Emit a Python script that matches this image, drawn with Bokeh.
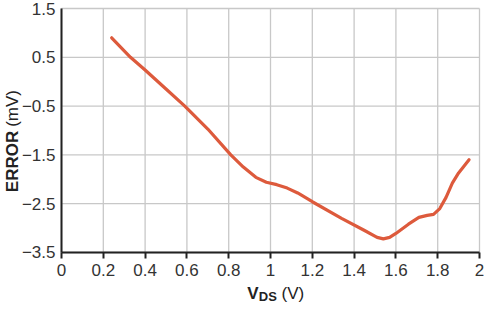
from bokeh.plotting import figure
from bokeh.models import FixedTicker, Label, Range1d
from bokeh.embed import file_html
from bokeh.resources import INLINE

vds = [0.24, 0.33, 0.40, 0.50, 0.59, 0.70, 0.81, 0.87, 0.93, 0.98, 1.03, 1.08,
       1.13, 1.20, 1.34, 1.45, 1.51, 1.54, 1.57, 1.60, 1.66, 1.71, 1.75, 1.78,
       1.81, 1.84, 1.87, 1.90, 1.95]
error_mv = [0.90, 0.50, 0.24, -0.15, -0.50, -0.97, -1.50, -1.75, -1.96, -2.06,
            -2.11, -2.18, -2.28, -2.46, -2.80, -3.05, -3.19, -3.22, -3.19, -3.11,
            -2.92, -2.78, -2.74, -2.72, -2.60, -2.37, -2.08, -1.87, -1.60]

x_ticks = [0, 0.2, 0.4, 0.6, 0.8, 1.0, 1.2, 1.4, 1.6, 1.8, 2.0]
x_tick_labels = ["0", "0.2", "0.4", "0.6", "0.8", "1", "1.2", "1.4", "1.6", "1.8", "2"]
y_ticks = [-3.5, -2.5, -1.5, -0.5, 0.5, 1.5]
y_tick_labels = ["\u22123.5", "\u22122.5", "\u22121.5", "\u22120.5", "0.5", "1.5"]

FONT = "Liberation Sans"
TICK_COLOR = "#333333"
TITLE_COLOR = "#222222"

p = figure(width=484, height=306, output_backend="svg", toolbar_location=None,
           x_range=Range1d(-0.2919, 2.0239), y_range=Range1d(-4.6066, 1.6639),
           min_border=0)
p.outline_line_color = None
p.background_fill_color = "white"
p.border_fill_color = "white"
p.grid.visible = False

# grid lines, drawn from the tick arrays
p.segment(x0=x_ticks, y0=[y_ticks[0]] * len(x_ticks),
          x1=x_ticks, y1=[y_ticks[-1]] * len(x_ticks),
          line_color="#c8c8c8", line_width=1.3)
p.segment(x0=[x_ticks[0]] * len(y_ticks), y0=y_ticks,
          x1=[x_ticks[-1]] * len(y_ticks), y1=y_ticks,
          line_color="#c8c8c8", line_width=1.3)

p.xaxis.ticker = FixedTicker(ticks=x_ticks)
p.yaxis.ticker = FixedTicker(ticks=y_ticks)
p.xaxis.major_label_overrides = {t: l for t, l in zip(x_ticks, x_tick_labels)}
p.yaxis.major_label_overrides = {t: l for t, l in zip(y_ticks, y_tick_labels)}
p.xaxis.fixed_location = y_ticks[0]
p.yaxis.fixed_location = x_ticks[0]
p.xaxis.bounds = (x_ticks[0], x_ticks[-1])
p.yaxis.bounds = (y_ticks[0], y_ticks[-1])

for ax in (p.xaxis, p.yaxis):
    ax.axis_line_color = "#222222"
    ax.axis_line_width = 2
    ax.major_tick_line_color = "#222222"
    ax.major_tick_line_width = 2
    ax.minor_tick_line_color = None
    ax.major_label_text_font = FONT
    ax.major_label_text_font_size = "17px"
    ax.major_label_text_color = TICK_COLOR

p.xaxis.major_tick_in = 0
p.xaxis.major_tick_out = 6
p.xaxis.major_label_standoff = 6
p.yaxis.major_tick_in = 0
p.yaxis.major_tick_out = 0
p.yaxis.major_label_standoff = 6

p.line(vds, error_mv, line_color="#dd5a3c", line_width=3.2, line_join="round",
       line_cap="round")

# y-axis title: bold "ERROR" + normal "(mV)"
p.add_layout(Label(x=-0.2364, y=-1.005, text="ERROR", angle=1.5708,
                   text_align="right", text_baseline="middle",
                   text_font=FONT, text_font_style="bold", text_font_size="17px",
                   text_color=TITLE_COLOR))
p.add_layout(Label(x=-0.2364, y=-0.925, text="(mV)", angle=1.5708,
                   text_align="left", text_baseline="middle",
                   text_font=FONT, text_font_size="17px", text_color=TITLE_COLOR))

# x-axis title: bold V with bold subscript DS + normal (V)
p.add_layout(Label(x=0.889, y=-4.332, text="V", text_align="left",
                   text_baseline="alphabetic", text_font=FONT,
                   text_font_style="bold", text_font_size="17px",
                   text_color=TITLE_COLOR))
p.add_layout(Label(x=0.944, y=-4.410, text="DS", text_align="left",
                   text_baseline="alphabetic", text_font=FONT,
                   text_font_style="bold", text_font_size="13px",
                   text_color=TITLE_COLOR))
p.add_layout(Label(x=1.053, y=-4.332, text="(V)", text_align="left",
                   text_baseline="alphabetic", text_font=FONT,
                   text_font_size="17px", text_color=TITLE_COLOR))

open("out.html", "w").write(file_html(p, INLINE))
